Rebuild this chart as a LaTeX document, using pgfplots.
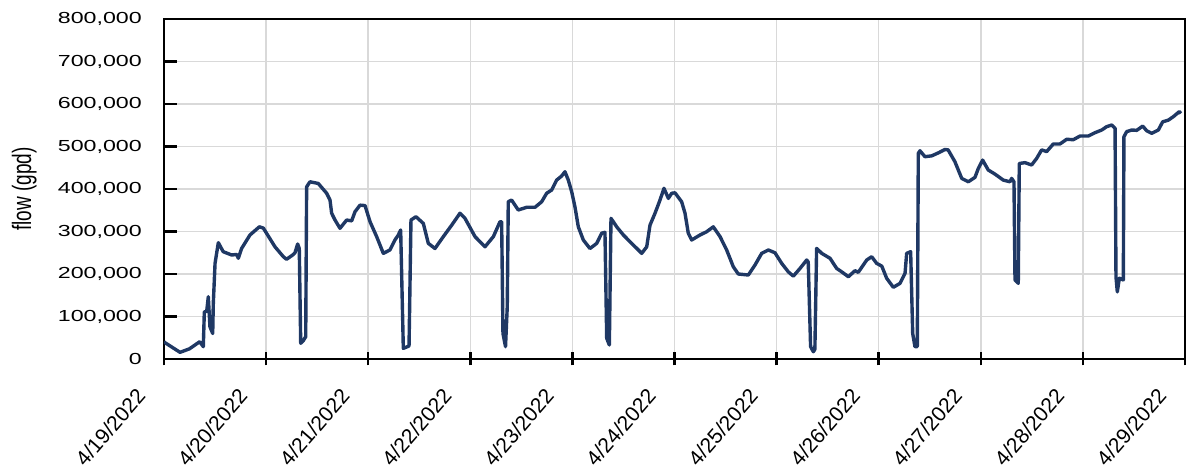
\documentclass[border=0pt]{standalone}
\usepackage{fontspec}
\setmainfont{Liberation Sans}
\usepackage{graphicx}
\usepackage{pgfplots}
\pgfplotsset{compat=1.18}

\definecolor{flowblue}{RGB}{31,56,100}
\definecolor{gridgray}{RGB}{217,217,217}

\begin{document}
\begin{tikzpicture}
\begin{axis}[
    name=ax,
    scale only axis,
    width=510.5pt, height=170pt,
    xmin=0, xmax=10, ymin=0, ymax=800000,
    xtick={0,1,...,10},
    xticklabels={4/19/2022,4/20/2022,4/21/2022,4/22/2022,4/23/2022,4/24/2022,4/25/2022,4/26/2022,4/27/2022,4/28/2022,4/29/2022},
    ytick={0,100000,...,800000},
    scaled y ticks=false,
    yticklabel={\scalebox{1.45}[1]{\pgfmathprintnumber[fixed,1000 sep={,},assume math mode=true]{\tick}}},
    grid=major,
    major grid style={gridgray, line width=0.75pt},
    axis line style={black, line width=1.25pt},
    xtick pos=bottom, ytick pos=left,
    x tick style={black, line width=1.25pt},
    y tick style={black, line width=1.25pt},
    xtick align=center, ytick align=inside,
    major tick length=6.5pt,
    xticklabel style={font=\fontsize{10.5}{12}\selectfont, xshift=-14.5pt, yshift=-10.5pt,
        rotate=49, anchor=north east, inner sep=0pt},
    yticklabel style={font=\fontsize{8}{10}\selectfont, xshift=-7.6pt},
    ylabel={\scalebox{1}[1.4]{flow (gpd)}},
    ylabel style={at={(axis description cs:-0.137,0.5)}, anchor=center,
        font=\fontsize{9.5}{11}\selectfont},
]
\addplot[color=flowblue, line width=1.7pt, line join=round] coordinates {
(0.00,40700) (0.01,38400) (0.157,15700) (0.25,24000) (0.35,40700) (0.385,29000)
(0.395,111000) (0.418,112000) (0.434,146600) (0.45,76000) (0.477,60000) (0.483,131000)
(0.50,225000) (0.532,273700) (0.58,252500) (0.663,244700) (0.712,246000) (0.728,237000)
(0.76,260000) (0.842,291800) (0.934,311000) (0.973,308000) (1.087,264000) (1.169,240700)
(1.20,234600) (1.26,244700) (1.283,250000) (1.309,270600) (1.325,260000) (1.339,37000)
(1.364,43000) (1.388,52500) (1.397,405000) (1.43,417000) (1.511,413000) (1.593,390000)
(1.626,374000) (1.642,343000) (1.675,327000) (1.724,307500) (1.789,327000) (1.838,325000)
(1.871,346600) (1.92,362000) (1.969,361000) (2.018,323000) (2.083,287800) (2.148,248600)
(2.213,256500) (2.262,280000) (2.295,291800) (2.318,303500) (2.344,25000) (2.40,30600)
(2.419,327000) (2.468,334800) (2.54,319000) (2.589,272000) (2.654,260000) (2.736,288000)
(2.818,315000) (2.899,343000) (2.948,331000) (3.046,288000) (3.144,264000) (3.226,288000)
(3.291,323000) (3.307,323000) (3.32,60000) (3.345,29000) (3.362,123000) (3.372,370000)
(3.405,374000) (3.47,350600) (3.552,357000) (3.634,357000) (3.699,370000) (3.748,390000)
(3.797,397600) (3.846,421000) (3.895,430600) (3.927,440700) (3.96,421000) (3.993,393700)
(4.025,358000) (4.058,311000) (4.107,280000) (4.172,260000) (4.238,272000) (4.287,296000)
(4.319,298000) (4.336,48700) (4.362,33000) (4.378,331000) (4.434,311000) (4.499,291800)
(4.581,272000) (4.679,248600) (4.728,264000) (4.76,315000) (4.809,342800) (4.858,374000)
(4.897,401600) (4.94,378000) (4.973,390000) (5.005,391000) (5.07,370000) (5.103,343000)
(5.135,296000) (5.168,280000) (5.25,291800) (5.315,299500) (5.38,311000) (5.446,288000)
(5.511,256500) (5.576,217000) (5.625,200000) (5.723,197600) (5.788,221000) (5.854,248600)
(5.919,256500) (5.984,250000) (6.05,225000) (6.115,205000) (6.164,195000) (6.229,213000)
(6.295,233000) (6.31,228000) (6.333,29000) (6.36,17000) (6.375,23000) (6.392,260400)
(6.442,248600) (6.523,237000) (6.589,213000) (6.638,205000) (6.703,193600) (6.768,207800)
(6.80,204000) (6.883,233000) (6.931,240700) (6.98,225000) (7.03,218600) (7.078,190000)
(7.143,168700) (7.209,178000) (7.258,201600) (7.274,248600) (7.313,252500) (7.333,60000)
(7.355,29000) (7.378,29000) (7.388,484000) (7.404,490000) (7.453,476000) (7.519,478000)
(7.584,485000) (7.649,493000) (7.68,492000) (7.747,464000) (7.813,425000) (7.878,417000)
(7.943,427500) (7.976,448600) (8.018,468000) (8.073,444700) (8.139,435000) (8.22,421000)
(8.286,417000) (8.302,425000) (8.325,417000) (8.335,186000) (8.367,178000) (8.377,460000)
(8.433,462000) (8.498,456500) (8.547,472000) (8.596,492000) (8.645,488000) (8.71,506000)
(8.776,506000) (8.841,517000) (8.906,516000) (8.972,524700) (9.053,524700) (9.119,532500)
(9.184,538800) (9.233,546700) (9.282,550600) (9.315,543000) (9.324,193600) (9.337,158000)
(9.357,190000) (9.396,186000) (9.402,523000) (9.429,535000) (9.478,538800) (9.527,538000)
(9.586,548000) (9.625,537000) (9.674,531000) (9.739,538800) (9.781,558000) (9.836,562000)
(9.885,570000) (9.944,582000) (9.96,578000)
};
\end{axis}
\pgfresetboundingbox
\path ([shift={(-82pt,-53pt)}]ax.south west) rectangle ([shift={(5pt,9.5pt)}]ax.north east);
\end{tikzpicture}
\end{document}
